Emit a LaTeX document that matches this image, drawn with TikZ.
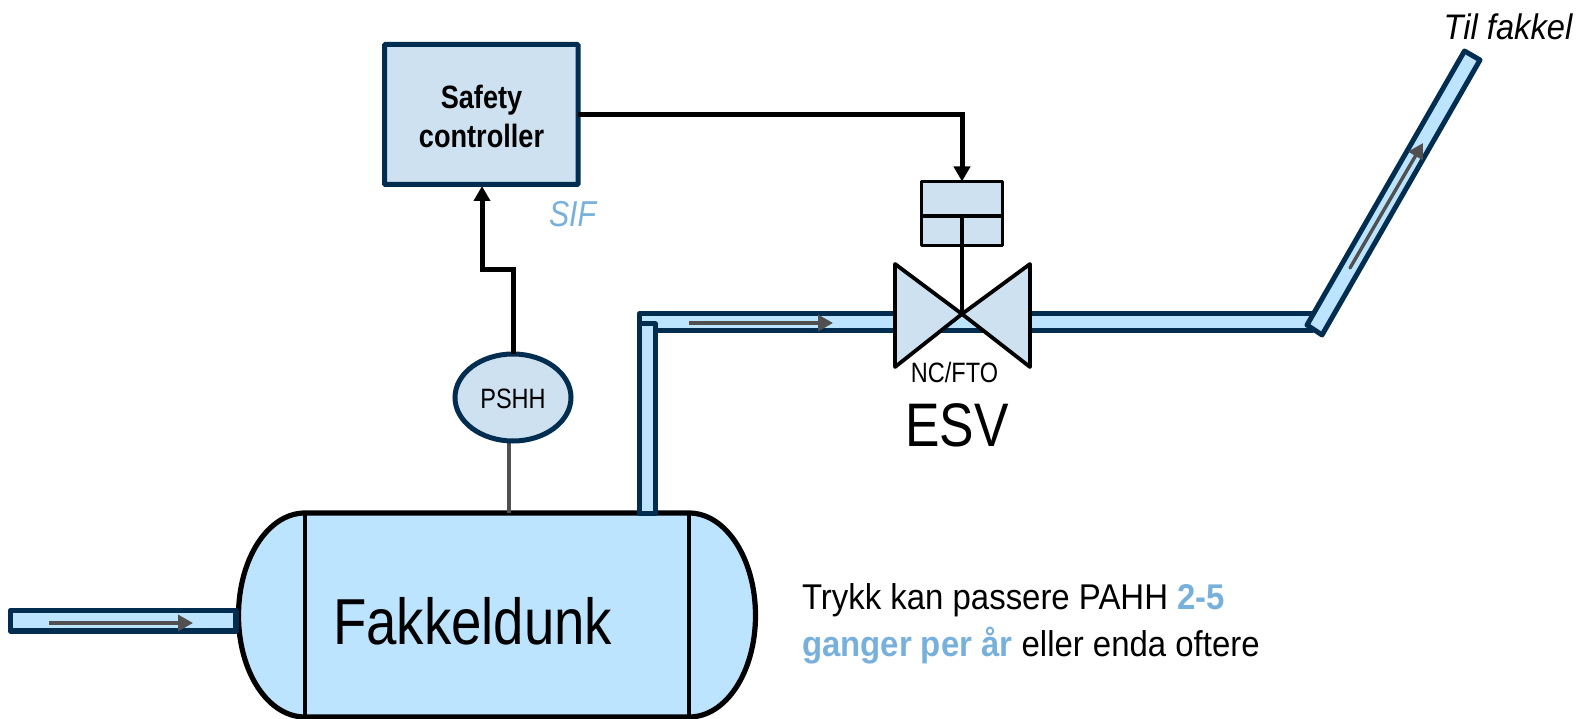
\documentclass[tikz,border=0pt]{standalone}
\usepackage{fontspec}
\setmainfont[FakeStretch=0.84]{Liberation Sans}
\newfontfamily\widerfont[FakeStretch=0.92]{Liberation Sans}
\usetikzlibrary{shapes.geometric,arrows.meta}
\definecolor{navy}{HTML}{002D50}
\definecolor{pipeblue}{HTML}{BDE4FF}
\definecolor{boxblue}{HTML}{CDE1F0}
\definecolor{sifblue}{HTML}{78B0DC}
\definecolor{flowgrey}{HTML}{505050}
\tikzset{
  pipe/.style={draw=navy,fill=pipeblue,line width=5pt,line join=round},
  flow/.style={draw=flowgrey,line width=3.4pt,-{Triangle[length=15pt,width=16pt]}},
  sig/.style={draw=black,line width=5pt,-{Triangle[length=15pt,width=16pt]}},
  equip/.style={draw=black,fill=boxblue,line width=3.8pt,line join=round},
  lbl/.style={inner sep=0pt,outer sep=0pt,text=black},
}
\newcommand{\fs}[1]{\fontsize{#1pt}{#1pt}\selectfont}
\begin{document}
\begin{tikzpicture}[x=1pt,y=-1pt]
\useasboundingbox (0,0) rectangle (1580,719);
% vessel
\draw[fill=pipeblue,draw=black,line width=5.2pt]
  (305,513) -- (689,513) .. controls (726,513) and (755.5,559) .. (755.5,615.5)
  .. controls (755.5,672) and (726,717) .. (689,717) -- (305,717)
  .. controls (268,717) and (238.5,672) .. (238.5,615.5)
  .. controls (238.5,559) and (268,513) .. (305,513) -- cycle;
\draw[black,line width=4.8pt] (305,513) -- (305,717);
\draw[black,line width=4.8pt] (689,513) -- (689,717);
\node[lbl,anchor=base west] (vessel) at (333,644) {\fs{65}Fakkeldunk};
% inlet pipe
\draw[pipe,line width=5.5pt] (10.5,610.5) rectangle (236,631);
\coordinate (inA) at (49,623); \coordinate (inB) at (193,623);
\draw[flow] (inA) -- (inB);
% horizontal and vertical pipe
\draw[pipe] (639,314) rectangle (1312,330.5);
\draw[pipe] (1307,325) -- (1464.5,51) -- (1480,60) -- (1322,335) -- cycle;
\draw[pipe,line width=5pt] (639.5,324) rectangle (655.5,513);
\coordinate (hA) at (689,323); \coordinate (hB) at (833,323);
\draw[flow] (hA) -- (hB);
\coordinate (dA) at (1350,268); \coordinate (dB) at (1423,143);
\draw[flow,line cap=round] (dA) -- (dB);
% controller
\node[draw=navy,fill=boxblue,line width=5pt,minimum width=193.5pt,minimum height=140pt,inner sep=0pt,align=center,outer sep=0pt,rounded corners=1pt] (ctrl) at (481.25,114.5) {};
\node[lbl,anchor=base] (ctrlA) at (481.5,109) {\fs{32.3}\textbf{Safety}};
\node[lbl,anchor=base] (ctrlB) at (481.5,148) {\fs{32.3}\textbf{controller}};
\node[lbl,anchor=base west,text=sifblue] (sif) at (549,227) {\fs{36}\textit{SIF}};
% PSHH
\draw[flowgrey,line width=3.8pt] (509,440) coordinate (g1) -- (509,513) coordinate (g2);
\node[ellipse,draw=navy,fill=boxblue,line width=5pt,minimum width=116pt,minimum height=87pt,inner sep=0pt,outer sep=0pt] (pshh) at (513,397.5) {};
\node[lbl,anchor=base] (pshhT) at (513,408) {\fs{28}PSHH};
\coordinate (bend1) at (513,270); \coordinate (bend2) at (482,270);
\draw[sig] (pshh.north) -- (bend1) -- (bend2) -- (482,186);
% valve
\coordinate (apex) at (962,314);
\draw[equip] (895,264) -- (apex) -- (895,367) -- cycle;
\draw[equip] (1030,264) -- (apex) -- (1030,367) -- cycle;
% actuator
\node[equip,draw=black,minimum width=81pt,minimum height=64pt,inner sep=0pt,outer sep=0pt] (act) at (962,213.5) {};
\coordinate (actL) at (921.5,216); \coordinate (actR) at (1002.5,216); \coordinate (actM) at (962,216);
\draw[black,line width=3.8pt] (actL) -- (actR);
\draw[black,line width=3.2pt] (actM) -- (apex);
\draw[sig] (ctrl.east |- 0,115) -- (962,115) -- (act.north);
\node[lbl,anchor=base] (nc) at (954.5,382) {\fs{28}NC/FTO};
\node[lbl,anchor=base] (esv) at (957,446) {\fs{61.5}ESV};
\node[lbl,anchor=base east] (til) at (1573,40) {\widerfont\fs{35.5}\textit{Til fakkel}};
\node[lbl,anchor=base west] (t1) at (802,609) {\widerfont\fs{35.8}Trykk kan passere PAHH {\color{sifblue}\textbf{2-5}}};
\node[lbl,anchor=base west] (t2) at (802,656.5) {\widerfont\fs{35.8}{\color{sifblue}\textbf{ganger per år}} eller enda oftere};
\end{tikzpicture}
\end{document}
